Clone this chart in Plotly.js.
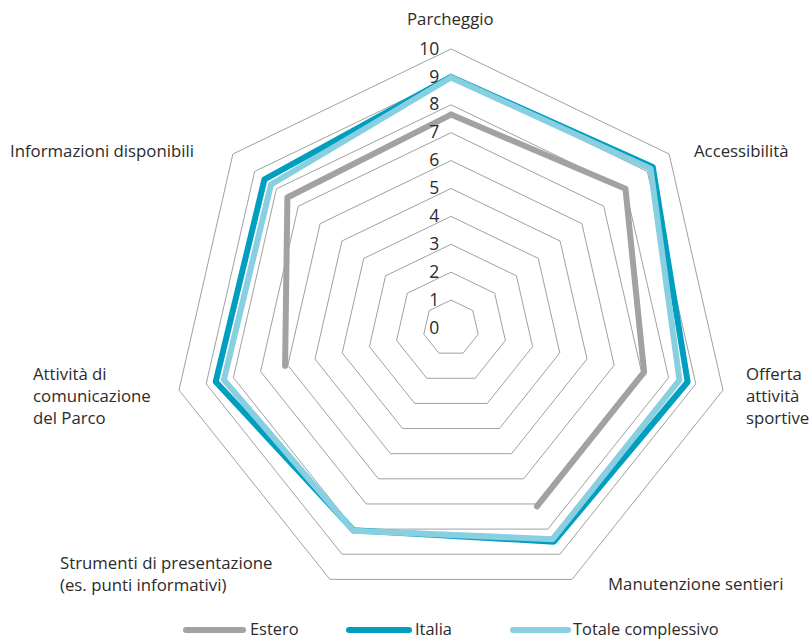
<!DOCTYPE html>
<html>
<head>
<meta charset="utf-8">
<script src="https://cdn.plot.ly/plotly-3.0.1.min.js"></script>
<style>
  html, body { margin: 0; padding: 0; background: #ffffff; }
  #chart { width: 810px; height: 641px; }
  #chart path.js-line { stroke-linecap: round; stroke-linejoin: round; }
  #chart .shapelayer path { stroke-linecap: round; }
</style>
</head>
<body>
<div id="chart"></div>
<script>
// ---- Data ----
var categories = [
  "Parcheggio",
  "Accessibilità",
  "Offerta attività sportive",
  "Manutenzione sentieri",
  "Strumenti di presentazione (es. punti informativi)",
  "Attività di comunicazione del Parco",
  "Informazioni disponibili"
];
var categoryLabels = [
  "Parcheggio",
  "Accessibilità",
  "Offerta<br>attività<br>sportive",
  "Manutenzione sentieri",
  "Strumenti di presentazione<br>(es. punti informativi)",
  "Attività di<br>comunicazione<br>del Parco",
  "Informazioni disponibili"
];
var estero = [7.65, 8.0, 7.1, 7.1, null, 6.1, 7.5];
var italia = [9.0, 9.25, 8.7, 8.5, 8.05, 8.65, 8.55];
var totale = [8.98, 9.15, 8.4, 8.4, 8.07, 8.35, 8.25];
var seriesNames = ["Estero", "Italia", "Totale complessivo"];
var radialTicks = [0, 1, 2, 3, 4, 5, 6, 7, 8, 9, 10];

// ---- Styles ----
var colors = ["#a2a2a2", "#009fbf", "#88cfe1"];
var W = 810, H = 641;
var cx = 451, cy = 328, R = 279;
var textColor = "#2b2b2b";
var fontFamily = "Open Sans, sans-serif";

function closeLoop(arr) { return arr.concat([arr[0]]); }

var seriesValues = [estero, italia, totale];
var traces = seriesValues.map(function (vals, i) {
  return {
    type: "scatterpolar",
    mode: "lines",
    name: seriesNames[i],
    r: closeLoop(vals),
    theta: closeLoop(categories),
    connectgaps: false,
    line: { color: colors[i], width: 6 },
    showlegend: false,
    hoverinfo: "skip"
  };
});

// category label placement (pixel anchors)
var labelPos = [
  { x: 450, y: 18, xa: "center" },
  { x: 692, y: 150, xa: "left" },
  { x: 744, y: 395, xa: "left" },
  { x: 606, y: 583, xa: "left" },
  { x: 58, y: 573, xa: "left" },
  { x: 31, y: 395, xa: "left" },
  { x: 196, y: 150, xa: "right" }
];
var annotations = categoryLabels.map(function (t, i) {
  var p = labelPos[i];
  return {
    text: t,
    xref: "paper", yref: "paper",
    x: p.x / W, y: 1 - p.y / H,
    xanchor: p.xa, yanchor: "middle",
    align: "left",
    showarrow: false,
    font: { family: fontFamily, size: 16.8, color: textColor }
  };
});

// legend (drawn manually to get long line keys)
var legendPos = [
  { x0: 186, x1: 243, tx: 249 },
  { x0: 349, x1: 409, tx: 414 },
  { x0: 513, x1: 568, tx: 572 }
];
var legendY = 630;
var shapes = [];
seriesNames.forEach(function (n, i) {
  var p = legendPos[i];
  shapes.push({
    type: "line", xref: "paper", yref: "paper",
    x0: p.x0 / W, x1: p.x1 / W,
    y0: 1 - legendY / H, y1: 1 - legendY / H,
    line: { color: colors[i], width: 6 }
  });
  annotations.push({
    text: n,
    xref: "paper", yref: "paper",
    x: p.tx / W, y: 1 - 641 / H,
    xanchor: "left", yanchor: "bottom",
    borderpad: 0,
    showarrow: false,
    font: { family: fontFamily, size: 16.4, color: textColor }
  });
});

var layout = {
  width: W, height: H,
  margin: { l: 0, r: 0, t: 0, b: 0 },
  paper_bgcolor: "#ffffff",
  plot_bgcolor: "#ffffff",
  font: { family: fontFamily, size: 16, color: textColor },
  showlegend: false,
  polar: {
    domain: {
      x: [(cx - R) / W, (cx + R) / W],
      y: [(H - cy - R) / H, (H - cy + R) / H]
    },
    bgcolor: "rgba(0,0,0,0)",
    gridshape: "linear",
    radialaxis: {
      range: [0, 10],
      tickvals: radialTicks,
      ticktext: radialTicks.map(String),
      angle: 90,
      side: "counterclockwise",
      showline: false,
      gridcolor: "#a0a0a0",
      gridwidth: 1,
      ticks: "outside",
      ticklen: 5,
      tickcolor: "rgba(0,0,0,0)",
      tickfont: { family: fontFamily, size: 17.5, color: textColor },
      tickangle: 90
    },
    angularaxis: {
      direction: "clockwise",
      rotation: 90,
      showline: true,
      linecolor: "#a0a0a0",
      linewidth: 1,
      showgrid: false,
      showticklabels: false,
      ticks: ""
    }
  },
  shapes: shapes,
  annotations: annotations
};

Plotly.newPlot("chart", traces, layout, { displayModeBar: false, staticPlot: true });
</script>
</body>
</html>
